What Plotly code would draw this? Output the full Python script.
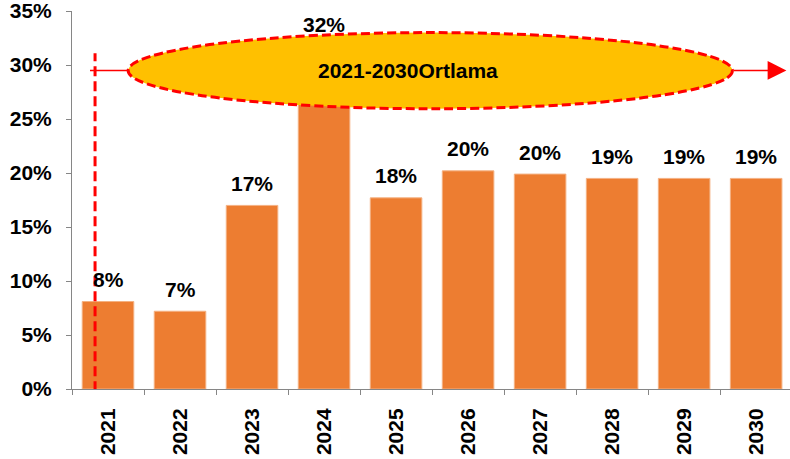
import plotly.graph_objects as go

years = ["2021", "2022", "2023", "2024", "2025", "2026", "2027", "2028", "2029", "2030"]
values = [8.1, 7.2, 17.0, 31.7, 17.7, 20.2, 19.9, 19.5, 19.5, 19.5]
labels = ["8%", "7%", "17%", "32%", "18%", "20%", "20%", "19%", "19%", "19%"]
y_ticks = [0, 5, 10, 15, 20, 25, 30, 35]
y_tick_text = ["0%", "5%", "10%", "15%", "20%", "25%", "30%", "35%"]
avg_text = "2021-2030Ortlama"

FONT = "Arial, 'Liberation Sans', sans-serif"
RED = "#FF0000"
FS = 21

fig = go.Figure()
fig.add_trace(go.Bar(
    x=list(range(len(years))), y=values,
    width=0.716,
    marker=dict(color="#ED7D31", line=dict(color="#F4B183", width=1)),
    hoverinfo="skip",
))

annotations = []
for i, (v, t) in enumerate(zip(values, labels)):
    annotations.append(dict(
        x=i, y=v, xref="x", yref="y", text=t, showarrow=False,
        yshift=22, yanchor="middle",
        font=dict(family=FONT, size=FS, color="black", weight="bold"),
    ))

# Average annotation (ellipse + arrows)
ell_x0, ell_x1, ell_y0, ell_y1 = 0.28, 8.67, 25.95, 33.0
mid_y = 29.5
shapes = [
    dict(type="line", xref="x", yref="y", x0=-0.18, x1=-0.18, y0=-0.2, y1=31.1,
         line=dict(color=RED, width=3, dash="10px,5px"), layer="above"),
    dict(type="line", xref="x", yref="y", x0=-0.25, x1=ell_x0, y0=mid_y, y1=mid_y,
         line=dict(color=RED, width=1.5), layer="above"),
    dict(type="circle", xref="x", yref="y", x0=ell_x0, x1=ell_x1, y0=ell_y0, y1=ell_y1,
         fillcolor="#FFC000", line=dict(color=RED, width=3, dash="9px,4px"), layer="above"),
]
annotations.append(dict(
    x=9.42, y=mid_y, xref="x", yref="y", ax=ell_x1, ay=mid_y, axref="x", ayref="y",
    text="", showarrow=True, arrowhead=2, arrowsize=2.5, arrowwidth=1.5, arrowcolor=RED,
))
annotations.append(dict(
    x=4.17, y=mid_y, xref="x", yref="y", text=avg_text, showarrow=False,
    font=dict(family=FONT, size=FS, color="black", weight="bold"),
))

fig.update_layout(
    width=790, height=459,
    margin=dict(l=72, r=0, t=11, b=70),
    paper_bgcolor="white", plot_bgcolor="white",
    showlegend=False,
    bargap=0,
    shapes=shapes, annotations=annotations,
    font=dict(family=FONT, color="black"),
)
fig.update_xaxes(
    type="linear", range=[-0.5, 9.47], automargin=False,
    tickmode="array", tickvals=list(range(len(years))), ticktext=years,
    tickangle=-90, showgrid=False, zeroline=False,
    showline=True, linecolor="#868686", linewidth=1,
    ticks="", ticklabelstandoff=10, ticklabeloverflow="allow",
    tickfont=dict(family=FONT, size=FS, color="black", weight="bold"),
)
fig.update_xaxes(minor=dict(tickmode="array", tickvals=[i - 0.5 for i in range(len(years) + 1)],
                            ticks="outside", ticklen=5, tickcolor="#868686", showgrid=False))
fig.update_yaxes(
    range=[0, 35.001], automargin=False,
    tickvals=y_ticks, ticktext=y_tick_text,
    showgrid=False, zeroline=False,
    showline=True, linecolor="#868686", linewidth=1,
    ticks="outside", ticklen=5, tickcolor="#868686", ticklabelstandoff=10,
    ticklabeloverflow="allow",
    tickfont=dict(family=FONT, size=FS, color="black", weight="bold"),
)

fig.write_html(
    "out.html",
    config={"displayModeBar": False, "staticPlot": True},
    post_script="document.body.style.margin='0';document.body.style.overflow='hidden';",
)
